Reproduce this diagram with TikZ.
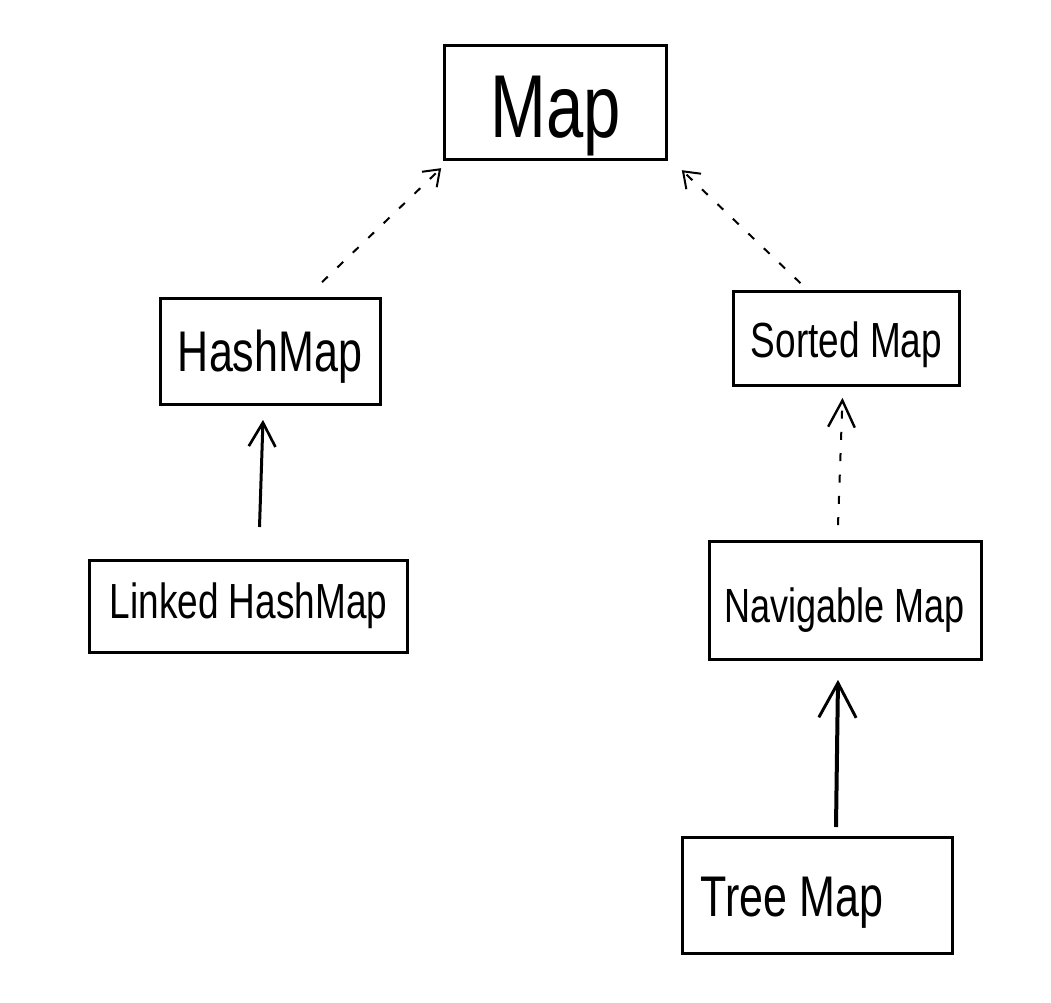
\documentclass[tikz,border=0pt]{standalone}
\usepackage{fontspec}
\newfontfamily\hand[FakeStretch=0.75]{Liberation Sans}
\usetikzlibrary{arrows.meta,calc}
\begin{document}
\begin{tikzpicture}[x=0.75pt,y=-0.75pt,
  box/.style={draw,line width=2.25pt,inner sep=0pt,outer sep=0pt,font=\hand},
  dsh/.style={line width=1.5pt,dash pattern=on 6pt off 10pt,
    -{Straight Barb[length=11pt,width=16pt,line width=1.5pt]}},
  sol/.style={line width=2.25pt,
    -{Straight Barb[length=18pt,width=20pt,line width=2pt]}}]
\fill[white] (0,0) rectangle (1051,1003);
\node[box,minimum width=167pt,minimum height=85pt,text height=62pt,text depth=10pt,font=\hand\fontsize{67}{70}\selectfont] (map) at (555.5,102.5) {Map};
\node[box,minimum width=165pt,minimum height=80pt,text height=38pt,text depth=8pt,font=\hand\fontsize{43}{46}\selectfont] (hm) at (270,351.5) {HashMap};
\node[box,minimum width=169pt,minimum height=71pt,text height=37pt,text depth=8pt,font=\hand\fontsize{37}{40}\selectfont] (sm) at (846.5,338.5) {Sorted Map};
\node[box,minimum width=238pt,minimum height=69pt,font=\hand\fontsize{37}{40}\selectfont] (lhm) at (248.5,606) {Linked HashMap};
\node[box,minimum width=204pt,minimum height=89pt,text height=40pt,text depth=7.5pt,font=\hand\fontsize{36}{40}\selectfont] (nm) at (845,600.5) {Navigable Map};
\node[box,minimum width=202.5pt,minimum height=87pt,text height=40pt,text depth=8pt,font=\hand\fontsize{43}{46}\selectfont] (tm) at (817,895) {\hspace*{-37.5pt}Tree Map};
\draw[dsh] ($(hm.north)+(52,-16)$) -- ($(map.south west)+(-3,9)$);
\draw[dsh] ($(sm.north)+(-46,-8)$) -- ($(map.south east)+(15,11)$);
\draw[sol] ($(lhm.north)+(11,-33)$) -- ($(hm.south)+(-7,15)$);
\draw[dsh,-{Straight Barb[length=20pt,width=20pt,line width=1.8pt]}] ($(nm.north)+(-7,-16)$) -- ($(sm.south)+(-4,12)$);
\draw[line width=3pt,-{Straight Barb[length=26pt,width=28pt,line width=2.2pt]}] ($(tm.north)+(19,-10)$) -- ($(nm.south)+(-7,20)$);
\end{tikzpicture}
\end{document}
